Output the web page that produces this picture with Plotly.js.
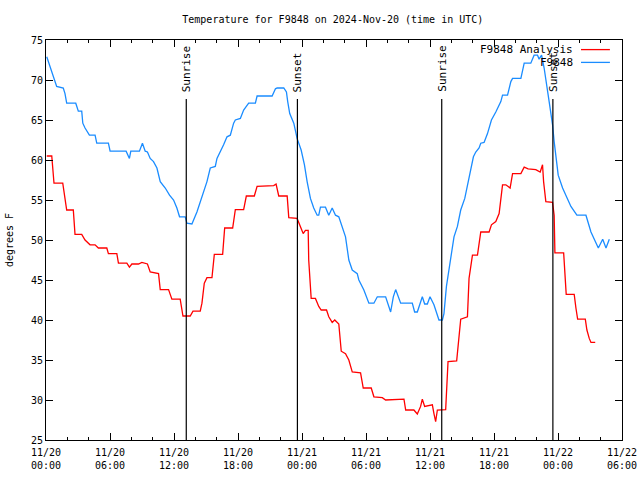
<!DOCTYPE html>
<html>
<head>
<meta charset="utf-8">
<script src="https://cdn.plot.ly/plotly-3.0.1.min.js"></script>
<style>html,body{margin:0;padding:0;background:#fff;}#chart{width:640px;height:480px;}</style>
</head>
<body>
<div id="chart"></div>
<script>
// Hours since 2024-11-20 00:00 UTC
const obsHours = [0.07,0.54,1.00,1.62,1.78,1.94,2.79,3.03,3.35,3.45,3.66,4.07,4.60,4.76,5.85,6.01,7.51,7.82,7.95,8.76,9.04,9.30,9.51,9.77,10.08,10.40,10.71,11.18,11.58,11.96,12.27,12.52,13.05,13.21,13.68,14.15,14.46,14.62,15.09,15.40,15.87,16.03,16.34,16.65,16.97,17.28,17.59,17.75,18.22,18.53,19.00,19.63,19.79,21.20,21.51,21.67,22.29,22.54,22.66,22.85,23.23,23.54,23.92,24.23,24.48,24.79,25.10,25.42,25.57,25.73,26.20,26.51,26.83,27.14,27.45,27.77,28.08,28.39,28.71,29.18,29.33,29.80,30.27,30.74,31.06,31.84,32.12,32.31,32.56,32.78,33.25,34.34,34.56,34.81,35.28,35.50,35.75,36.00,36.37,36.63,36.84,37.16,37.31,37.54,37.94,38.25,38.57,38.88,39.26,39.51,39.82,40.07,40.29,40.60,40.76,41.07,41.39,41.76,42.17,42.64,42.80,43.27,43.58,43.74,44.52,44.83,45.45,45.76,46.08,46.23,46.46,46.70,47.17,47.49,47.64,48.02,48.43,48.90,49.21,49.77,50.62,51.09,51.40,51.78,52.19,52.50,52.81];
const obsTemps = [72.9,71.0,69.2,69.0,68.3,67.1,67.1,66.1,66.1,64.6,64.0,63.1,63.1,62.1,62.1,61.1,61.1,60.2,61.1,61.1,62.1,61.1,61.0,60.2,59.8,59.0,57.3,56.5,55.6,55.0,54.0,52.9,52.9,52.1,52.0,53.5,54.8,55.6,57.3,59.0,59.2,60.2,61.0,61.9,62.9,63.1,64.6,65.0,65.2,66.25,67.1,67.1,68.0,68.0,68.9,69.0,69.0,68.5,67.3,65.8,64.6,62.7,61.25,59.4,57.3,55.2,54.0,53.1,53.1,54.1,54.1,53.1,54.0,53.1,52.9,51.7,50.4,47.5,46.25,45.8,45.0,43.75,42.1,42.1,42.9,42.9,41.9,41.0,42.9,43.8,42.1,42.1,41.0,41.0,42.9,42.0,42.0,42.9,41.9,40.9,40.0,40.0,40.8,44.2,48.0,50.4,51.7,53.75,55.2,56.7,58.75,60.4,61.0,61.5,62.1,62.2,63.3,65.0,66.0,67.3,68.1,68.1,69.8,70.2,70.2,72.1,72.1,73.1,73.1,72.6,73.1,71.5,67.3,64.4,62.3,58.1,56.5,55.2,54.2,53.1,53.1,51.0,50.1,49.0,50.1,49.0,50.1];

const anaHours = [0.07,0.54,0.75,1.57,1.94,2.56,2.72,3.35,3.66,4.13,4.60,4.91,5.70,5.85,6.64,6.79,7.58,7.82,8.05,8.67,8.99,9.51,9.77,10.55,10.71,11.49,11.80,12.58,12.84,13.52,13.78,14.46,14.62,14.84,15.09,15.56,15.78,16.56,16.75,17.50,17.75,18.53,18.78,19.53,19.79,21.35,21.57,21.82,22.61,22.76,23.54,23.85,24.11,24.32,24.58,24.63,24.86,25.26,25.57,25.80,26.30,26.51,26.83,27.07,27.45,27.68,28.08,28.39,28.71,29.49,29.74,30.49,30.74,31.53,31.84,33.56,33.72,34.49,34.81,35.12,35.28,35.50,36.22,36.37,36.53,36.69,37.47,37.69,38.50,38.88,39.51,39.66,39.98,40.45,40.76,41.54,41.76,42.17,42.48,42.80,43.11,43.51,43.74,44.52,44.83,45.20,45.92,46.33,46.55,46.65,46.86,47.49,47.64,47.71,48.53,48.77,49.52,49.68,49.84,50.56,50.71,50.93,51.09,51.49];
const anaTemps = [60.5,60.5,57.1,57.1,53.75,53.75,50.7,50.7,50.0,49.4,49.4,49.0,49.0,48.3,48.3,47.1,47.1,46.6,47.0,47.0,47.2,47.0,46.0,45.8,43.8,43.8,42.6,42.6,40.5,40.5,41.1,41.1,42.1,44.6,45.3,45.3,48.2,48.2,51.5,51.5,53.8,53.8,55.5,55.5,56.7,56.8,57.0,55.5,55.5,52.8,52.7,51.7,50.8,51.2,51.2,47.5,42.7,42.7,41.7,41.25,41.25,40.4,39.7,40.0,39.5,36.1,35.8,35.0,33.5,33.4,31.5,31.5,30.4,30.3,30.0,30.1,28.75,28.75,28.25,29.2,30.1,29.2,29.4,28.3,27.3,28.75,28.8,34.8,34.9,40.1,40.4,45.2,48.1,48.1,51.0,51.0,51.9,52.3,53.3,56.9,56.9,56.5,58.3,58.3,59.1,58.9,58.8,58.5,59.4,57.3,54.8,54.7,53.1,48.4,48.4,43.2,43.2,41.5,40.1,40.1,38.75,37.7,37.2,37.2];

const sunHours = [13.15, 23.57, 37.10, 47.52];
const sunLabels = ["Sunrise", "Sunset", "Sunrise", "Sunset"];

const xTickVals = [0,6,12,18,24,30,36,42,48,54];
const xTickText = ["11/20<br>00:00","11/20<br>06:00","11/20<br>12:00","11/20<br>18:00","11/21<br>00:00","11/21<br>06:00","11/21<br>12:00","11/21<br>18:00","11/22<br>00:00","11/22<br>06:00"];

const seriesNames = ["F9848 Analysis", "F9848"];
const seriesColors = ["#ff0000", "#1a8cff"];

const FONT = "DejaVu Sans Mono, Liberation Mono, monospace";

const traces = [
  {x: anaHours, y: anaTemps, type: "scatter", mode: "lines", name: seriesNames[0],
   line: {color: seriesColors[0], width: 1.3}, showlegend: false},
  {x: obsHours, y: obsTemps, type: "scatter", mode: "lines", name: seriesNames[1],
   line: {color: seriesColors[1], width: 1.3}, showlegend: false}
];

const shapes = [];
const annotations = [];
sunHours.forEach((h, i) => {
  shapes.push({type: "line", xref: "x", yref: "paper", x0: h, x1: h, y0: 0, y1: 0.8525,
    line: {color: "#000", width: 1.2}});
  annotations.push({xref: "x", yref: "paper", x: h, y: 0.865, yanchor: "bottom", xanchor: "center",
    text: sunLabels[i], textangle: -90, showarrow: false, font: {family: FONT, size: 11, color: "#000"}});
});

// legend drawn gnuplot-style: text then sample line
const legendY = [0.976, 0.944];
seriesNames.forEach((n, i) => {
  annotations.push({xref: "paper", yref: "paper", x: 0.918, y: legendY[i], xanchor: "right", yanchor: "middle",
    text: n, showarrow: false, font: {family: FONT, size: 11, color: "#000"}});
  shapes.push({type: "line", xref: "paper", yref: "paper", x0: 0.9288, x1: 0.979, y0: legendY[i], y1: legendY[i],
    line: {color: seriesColors[i], width: 1.3}});
});

const layout = {
  width: 640, height: 480,
  margin: {l: 46, r: 18, t: 40, b: 40},
  paper_bgcolor: "#fff", plot_bgcolor: "#fff",
  font: {family: FONT, size: 10, color: "#000"},
  title: {text: "Temperature for F9848 on 2024-Nov-20 (time in UTC)", x: 0.52, xanchor: "center",
          y: 0.96, yanchor: "middle", font: {family: FONT, size: 10, color: "#000"}},
  showlegend: false,
  xaxis: {range: [0, 54], tickmode: "array", tickvals: xTickVals, ticktext: xTickText,
          ticks: "inside", ticklen: 7, tickwidth: 1, tickcolor: "#000", ticklabelstandoff: 3,
          showline: true, linecolor: "#000", linewidth: 1, mirror: "allticks",
          showgrid: false, zeroline: false,
          minor: {tickmode: "linear", tick0: 0, dtick: 2, ticks: "inside", ticklen: 3, tickcolor: "#000", showgrid: false},
          tickfont: {family: FONT, size: 10, color: "#000"}},
  yaxis: {range: [25, 75], dtick: 5, tick0: 25, ticks: "inside", ticklen: 7, tickwidth: 1, tickcolor: "#000",
          showline: true, linecolor: "#000", linewidth: 1, mirror: "allticks",
          showgrid: false, zeroline: false, automargin: false,
          tickfont: {family: FONT, size: 10, color: "#000"},
          title: {text: "degrees F", standoff: 15, font: {family: FONT, size: 10, color: "#000"}}},
  shapes: shapes,
  annotations: annotations
};

Plotly.newPlot("chart", traces, layout, {displayModeBar: false, staticPlot: true});
</script>
</body>
</html>
